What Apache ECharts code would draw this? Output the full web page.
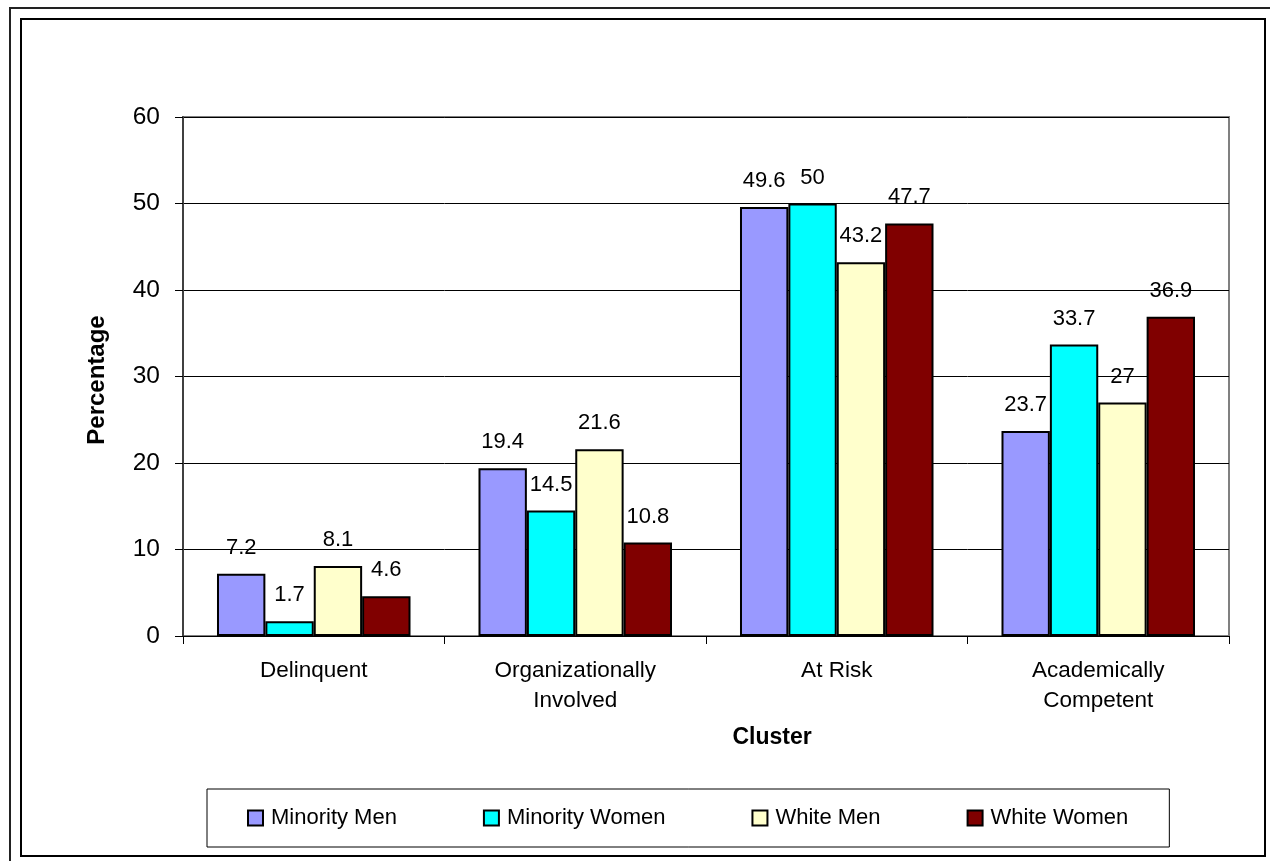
<!DOCTYPE html>
<html>
<head>
<meta charset="utf-8">
<title>Cluster membership by group</title>
<script src="https://cdn.jsdelivr.net/npm/echarts@6/dist/echarts.min.js"></script>
<style>
  html, body { margin: 0; padding: 0; background: #fff; }
  #chart { width: 1270px; height: 861px; }
</style>
</head>
<body>
<div id="chart"></div>
<script>
// Cluster categories (x axis)
const clusters = ['Delinquent', 'Organizationally\nInvolved', 'At Risk', 'Academically\nCompetent'];

// Percentage of each group falling in each cluster
const minorityMen   = [7.2, 19.4, 49.6, 23.7];
const minorityWomen = [1.7, 14.5, 50, 33.7];
const whiteMen      = [8.1, 21.6, 43.2, 27];
const whiteWomen    = [4.6, 10.8, 47.7, 36.9];

const groupNames = ['Minority Men', 'Minority Women', 'White Men', 'White Women'];
const groupColors = ['#9999FF', '#00FFFF', '#FFFFCC', '#800000'];
const groupValues = [minorityMen, minorityWomen, whiteMen, whiteWomen];

// Y axis range
const yMin = 0, yMax = 60, yStep = 10;

const FONT = 'Arial, "Liberation Sans", Helvetica, sans-serif';

const series = groupNames.map((name, i) => ({
  name: name,
  type: 'bar',
  data: groupValues[i],
  barGap: '0%',
  barCategoryGap: '26%',
  itemStyle: { color: groupColors[i], borderColor: '#000', borderWidth: 2 },
  label: {
    show: true,
    position: 'top',
    distance: 15,
    color: '#000',
    fontFamily: FONT,
    fontSize: 22
  },
  emphasis: { disabled: true },
  animation: false
}));

const chart = echarts.init(document.getElementById('chart'), null, { renderer: 'canvas' });

chart.setOption({
  backgroundColor: '#fff',
  animation: false,
  grid: {
    left: 183, top: 117, right: 41, bottom: 225,
    show: true, borderColor: '#808080', borderWidth: 2,
    containLabel: false
  },
  legend: {
    left: 207, top: 789,
    padding: [18, 41, 18, 40],
    borderColor: '#000', borderWidth: 1,
    itemWidth: 15, itemHeight: 15,
    itemGap: 86,
    icon: 'rect',
    selectedMode: false,
    textStyle: { fontFamily: FONT, fontSize: 22, color: '#000', padding: [0, 0, 0, 3] },
    data: groupNames
  },
  xAxis: {
    type: 'category',
    data: clusters,
    axisLine: { lineStyle: { color: '#000', width: 1 } },
    axisTick: { show: true, length: 8, lineStyle: { color: '#000' } },
    axisLabel: {
      color: '#000', fontFamily: FONT, fontSize: 22.5,
      margin: 20, lineHeight: 30
    },
    splitLine: { show: false }
  },
  yAxis: {
    type: 'value',
    min: yMin, max: yMax, interval: yStep,
    axisLine: { show: true, lineStyle: { color: '#404040', width: 2 } },
    axisTick: { show: true, length: 8, lineStyle: { color: '#000' } },
    axisLabel: { color: '#000', fontFamily: FONT, fontSize: 24.5, margin: 23 },
    splitLine: { show: true, lineStyle: { color: '#000', width: 1 } }
  },
  graphic: [
    // double frame around the chart
    { type: 'polyline', shape: { points: [[10, 861], [10, 8], [1270, 8]] },
      style: { stroke: '#222', lineWidth: 2, fill: null }, silent: true },
    { type: 'rect', shape: { x: 21, y: 19, width: 1244, height: 837 },
      style: { stroke: '#000', lineWidth: 2, fill: null }, silent: true },
    // axis titles
    { type: 'text', x: 97, y: 380, rotation: Math.PI / 2,
      style: { text: 'Percentage', fontFamily: FONT, fontWeight: 'bold', fontSize: 24,
               fill: '#000', align: 'center', verticalAlign: 'middle' }, silent: true },
    { type: 'text', x: 772, y: 738,
      style: { text: 'Cluster', fontFamily: FONT, fontWeight: 'bold', fontSize: 23,
               fill: '#000', align: 'center', verticalAlign: 'middle' }, silent: true }
  ],
  series: series
});
</script>
</body>
</html>
